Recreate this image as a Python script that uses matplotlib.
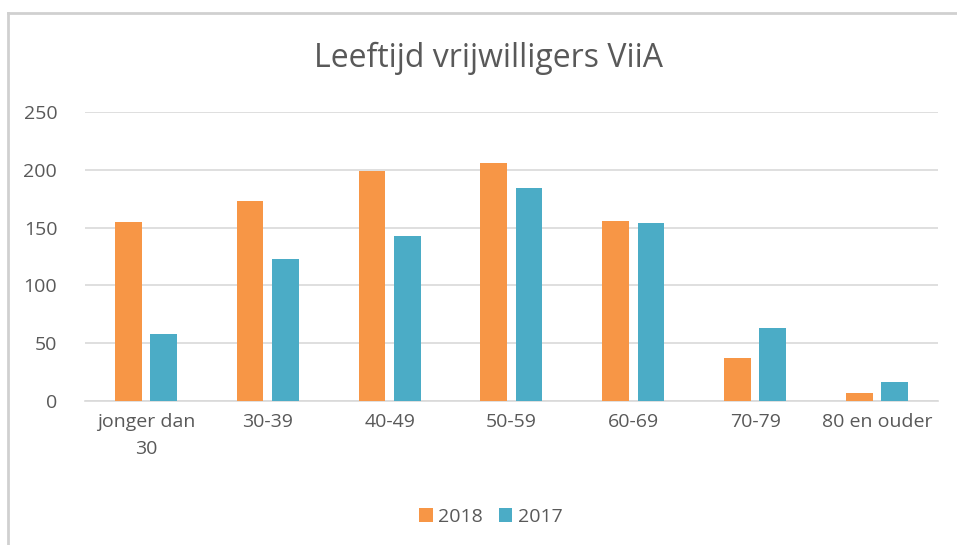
import numpy as np
import matplotlib.pyplot as plt
from matplotlib.lines import Line2D

plt.rcParams['font.family'] = ['Open Sans', 'DejaVu Sans']

categories = ["jonger dan\n30", "30-39", "40-49", "50-59", "60-69", "70-79", "80 en ouder"]
values_2018 = [155, 173, 199, 206, 156, 37, 7]
values_2017 = [58, 123, 143, 184, 154, 63, 16]

orange = "#F79646"
blue = "#4BACC6"
text_gray = "#595959"

fig = plt.figure(figsize=(9.57, 5.45), dpi=100)
ax = fig.add_axes([0.0888, 0.2648, 0.8912, 0.5292])

x = np.arange(len(categories))
w = 0.22
ax.bar(x - 0.145, values_2018, w, color=orange, label="2018", zorder=3)
ax.bar(x + 0.145, values_2017, w, color=blue, label="2017", zorder=3)

ax.set_xlim(-0.5, len(categories) - 0.5)
ax.set_ylim(0, 250)
ax.set_yticks(range(0, 251, 50))
ax.yaxis.grid(True, color="#d9d9d9", linewidth=1.2, zorder=0)
for s in ["top", "right", "left"]:
    ax.spines[s].set_visible(False)
ax.spines["bottom"].set_color("#d9d9d9")
ax.spines["bottom"].set_linewidth(1.2)
ax.tick_params(length=0, colors=text_gray, labelsize=14)
ax.tick_params(axis="y", pad=20)
ax.tick_params(axis="x", pad=9)
ax.set_xticks(x)
ax.set_xticklabels(categories, linespacing=1.6)

fig.text(0.51, 0.893, "Leeftijd vrijwilligers ViiA", ha="center", va="center",
         fontsize=23, color=text_gray)

fig.legend(loc="center", bbox_to_anchor=(0.513, 0.052), ncol=2, frameon=False,
           fontsize=14, handlelength=0.7, handleheight=0.7, handletextpad=0.3,
           columnspacing=0.8, labelcolor=text_gray)

# light frame round the chart (left and top only visible in the reference)
fig.add_artist(Line2D([0.008, 0.008], [0, 0.976], color="#d0d0d0", linewidth=2,
                      transform=fig.transFigure))
fig.add_artist(Line2D([0.008, 1.0], [0.976, 0.976], color="#d0d0d0", linewidth=2,
                      transform=fig.transFigure))

fig.savefig("out.png", dpi=100)
